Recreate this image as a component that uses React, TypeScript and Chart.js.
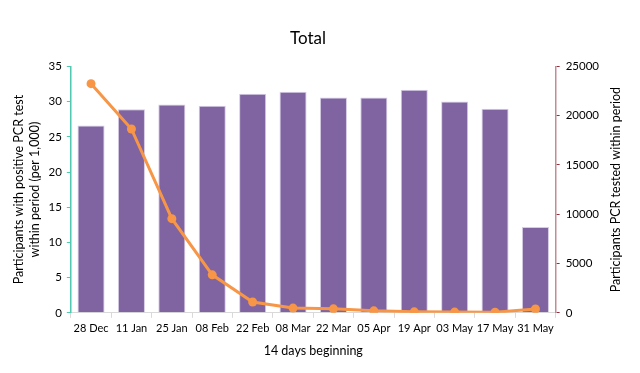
import React, { useEffect, useRef } from "react";
import { Chart, registerables } from "chart.js";

Chart.register(...registerables);

const categories = ["28 Dec", "11 Jan", "25 Jan", "08 Feb", "22 Feb", "08 Mar", "22 Mar", "05 Apr", "19 Apr", "03 May", "17 May", "31 May"];
const positivePer1000 = [26.6, 28.9, 29.6, 29.4, 31.1, 31.4, 30.6, 30.6, 31.7, 30.0, 29.0, 12.2];
const testedCounts = [23250, 18650, 9550, 3850, 1100, 480, 400, 200, 100, 70, 60, 380];
const leftTicksMax = 35;
const rightTicksMax = 25000;
const rightTitle = "Participants PCR tested within period";

export default function App() {
  const ref = useRef<HTMLCanvasElement | null>(null);
  useEffect(() => {
    document.body.style.margin = "0";
    const font = "Lato, 'Open Sans', sans-serif";
    const rightTitlePlugin = {
      id: "rightTitle",
      afterDraw(c: any) {
        const ctx = c.ctx;
        const area = c.chartArea;
        ctx.save();
        ctx.fillStyle = "#000";
        ctx.font = `12.5px ${font}`;
        ctx.textAlign = "center";
        ctx.textBaseline = "middle";
        ctx.translate(616, (area.top + area.bottom) / 2);
        ctx.rotate(-Math.PI / 2);
        ctx.fillText(rightTitle, 0, 0);
        ctx.restore();
      },
    };
    const chart = new Chart(ref.current!, {
      data: {
        labels: categories,
        datasets: [
          {
            type: "line",
            label: "Tested",
            data: testedCounts,
            yAxisID: "y1",
            borderColor: "#f79646",
            backgroundColor: "#f79646",
            borderWidth: 3,
            pointRadius: 4.5,
            pointBackgroundColor: "#f79646",
            pointBorderWidth: 0,
            tension: 0,
            order: 0,
          },
          {
            type: "bar",
            label: "Positive",
            data: positivePer1000,
            yAxisID: "y",
            backgroundColor: "#8064a2",
            borderColor: "#d6cce4",
            borderWidth: 1,
            categoryPercentage: 1,
            barPercentage: 0.67,
            order: 1,
          },
        ],
      },
      options: {
        animation: false,
        responsive: false,
        layout: { padding: { left: 11, right: 35, top: 0, bottom: 11 } },
        plugins: {
          legend: { display: false },
          tooltip: { enabled: false },
          title: {
            display: true,
            text: "Total",
            color: "#000",
            font: { family: font, size: 17, weight: "normal" },
            padding: { top: 28, bottom: 18 },
          },
        },
        scales: {
          x: {
            offset: true,
            grid: { display: true, offset: true, drawOnChartArea: false, color: "#d9d9d9", tickLength: 5 },
            border: { color: "#d9d9d9" },
            ticks: { color: "#000", font: { family: font, size: 11 }, maxRotation: 0, autoSkip: false, padding: 4 },
            title: { display: true, text: "14 days beginning", color: "#000", font: { family: font, size: 12.5 }, padding: { top: 4 } },
          },
          y: {
            position: "left",
            min: 0,
            max: leftTicksMax,
            ticks: { stepSize: 5, color: "#000", font: { family: font, size: 11.5 }, padding: 5 },
            grid: { drawOnChartArea: false, color: "#4fc9b0", tickLength: 4 },
            border: { color: "#4fc9b0", width: 1.5 },
            title: {
              display: true,
              text: ["Participants with positive PCR test", "within period (per 1,000)"],
              color: "#000",
              font: { family: font, size: 12.5, lineHeight: 1.3 },
              padding: { bottom: 0, top: 0 },
            },
          },
          y1: {
            position: "right",
            min: 0,
            max: rightTicksMax,
            ticks: {
              stepSize: 5000,
              color: "#000",
              font: { family: font, size: 11.5 },
              padding: 6,
              callback: (v: any) => String(v),
            },
            grid: { drawOnChartArea: false, color: "#9b2c3c", tickLength: 4 },
            border: { color: "#c48b93", width: 1.5 },
          },
        },
      },
      plugins: [rightTitlePlugin],
    });
    return () => chart.destroy();
  }, []);
  return (
    <div style={{ width: 640, height: 373, background: "#fff" }}>
      <canvas ref={ref} width={640} height={373} />
    </div>
  );
}
